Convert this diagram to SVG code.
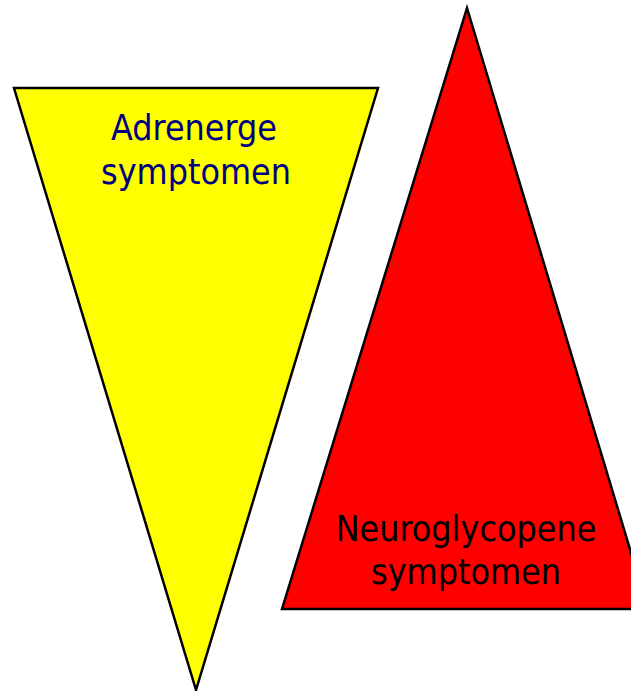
<svg xmlns="http://www.w3.org/2000/svg" width="631" height="691" viewBox="0 0 631 691">
<style>
.tri{stroke:#000;stroke-width:2.5;stroke-linejoin:miter}
.lbl{font-family:"DejaVu Sans Condensed","DejaVu Sans",Verdana,sans-serif;font-size:35.5px;text-anchor:middle}
</style>
<rect width="631" height="691" fill="#fff"/>
<g id="adrenerge">
<polygon class="tri" points="14,88 378,88 196,690" fill="#ffff00"/>
<text class="lbl" fill="#000080"><tspan x="194" y="140">Adrenerge</tspan><tspan x="196" y="184">symptomen</tspan></text>
</g>
<g id="neuroglycopene">
<polygon class="tri" points="467,8 648,609 282,609" fill="#ff0000"/>
<text class="lbl" fill="#000"><tspan x="466" y="541">Neuroglycopene</tspan><tspan x="466" y="584">symptomen</tspan></text>
</g>
<g id="connectors"/>
</svg>
